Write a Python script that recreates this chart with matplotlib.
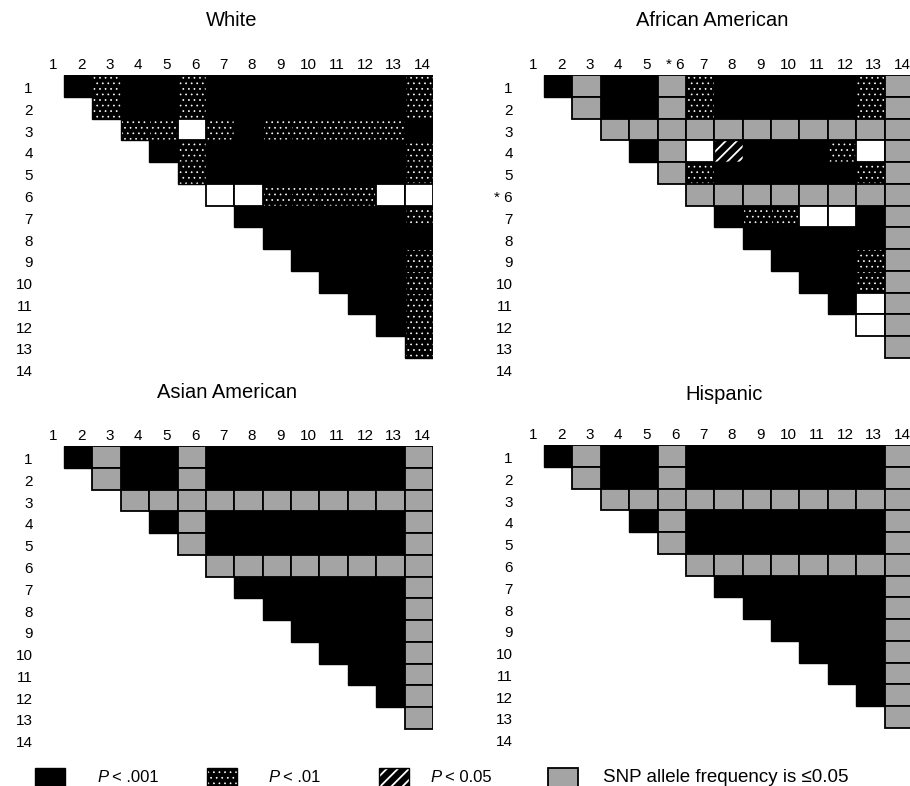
import numpy as np
import matplotlib
matplotlib.use('Agg')
import matplotlib.pyplot as plt
from matplotlib.patches import Rectangle

plt.rcParams['font.family'] = ['Liberation Sans', 'DejaVu Sans']
plt.rcParams['hatch.linewidth'] = 1.3

# SNP pairs: row i holds columns i+1 .. 14
# B: P < .001, D: P < .01, H: P < 0.05, G: SNP allele freq <= 0.05, W: not significant
snp_ids = list(range(1, 15))

white_rows = [
    "BDBBDBBBBBBBD",
    "DBBDBBBBBBBD",
    "DDWDBDDDDDB",
    "BDBBBBBBBD",
    "DBBBBBBBD",
    "WWDDDDWW",
    "BBBBBBD",
    "BBBBBB",
    "BBBBD",
    "BBBD",
    "BBD",
    "BD",
    "D",
]

african_rows = [
    "BGBBGDBBBBBDG",
    "GBBGDBBBBBDG",
    "GGGGGGGGGGG",
    "BGWHBBBDWG",
    "GDBBBBBDG",
    "GGGGGGGG",
    "BDDWWBG",
    "BBBBBG",
    "BBBDG",
    "BBDG",
    "BWG",
    "WG",
    "G",
]

asian_rows = [
    "BGBBGBBBBBBBG",
    "GBBGBBBBBBBG",
    "GGGGGGGGGGG",
    "BGBBBBBBBG",
    "GBBBBBBBG",
    "GGGGGGGG",
    "BBBBBBG",
    "BBBBBG",
    "BBBBG",
    "BBBG",
    "BBG",
    "BG",
    "G",
]

hispanic_rows = [
    "BGBBGBBBBBBBG",
    "GBBGBBBBBBBG",
    "GGGGGGGGGGG",
    "BGBBBBBBBG",
    "GBBBBBBBG",
    "GGGGGGGG",
    "BBBBBBG",
    "BBBBBG",
    "BBBBG",
    "BBBG",
    "BBG",
    "BG",
    "G",
]

plain_labels = [str(n) for n in snp_ids]
african_labels = [("* 6" if n == 6 else str(n)) for n in snp_ids]

titles = ["White", "African American", "Asian American", "Hispanic"]
legend_labels = [".001", ".01", "0.05"]
legend_snp = "SNP allele frequency is \u22640.05"

GRAY = '#a4a4a4'

W, H = 910, 786
fig = plt.figure(figsize=(W / 100, H / 100), dpi=100)


def px_axes(left, top, width, height):
    return fig.add_axes([left / W, 1 - (top + height) / H, width / W, height / H])


def pattern_rect(ax, x, y, w, h, code):
    hatch = '...' if code == 'D' else '///'
    p = Rectangle((x, y), w, h, fc='black', ec='white', lw=0, hatch=hatch)
    if code == 'D' and hasattr(p, 'set_hatch_linewidth'):
        p.set_hatch_linewidth(0.5)
    ax.add_patch(p)
    ax.add_patch(Rectangle((x, y), w, h, fill=False, ec='black', lw=1.0))


def cell(ax, x, y, code):
    if code == 'B':
        ax.add_patch(Rectangle((x, y), 1, 1, fc='black', ec='black', lw=1.0))
    elif code in 'DH':
        pattern_rect(ax, x, y, 1, 1, code)
    elif code == 'G':
        ax.add_patch(Rectangle((x, y), 1, 1, fc=GRAY, ec='black', lw=1.3, zorder=2))
    else:
        ax.add_patch(Rectangle((x, y), 1, 1, fc='white', ec='black', lw=1.3, zorder=2))


def draw_panel(ax, rows, labels):
    for i, row in enumerate(rows, start=1):
        for k, code in enumerate(row):
            j = i + 1 + k
            cell(ax, j - 0.5, i - 0.5, code)
    ax.set_xlim(0.5, 14.5)
    ax.set_ylim(14.5, 0.5)
    ax.xaxis.tick_top()
    ax.set_xticks(np.array(snp_ids) + 0.12)
    ax.set_xticklabels(labels, fontsize=11)
    ax.set_yticks(np.array(snp_ids) + 0.08)
    ax.set_yticklabels(labels, fontsize=11)
    ax.tick_params(length=0, pad=2)
    for s in ax.spines.values():
        s.set_visible(False)


cw, rh = 28.38, 21.77
panel_w, panel_h = 14 * cw, 14 * rh

ax1 = px_axes(35.6, 75, panel_w, panel_h)
ax2 = px_axes(515.6, 75, panel_w, panel_h)
ax3 = px_axes(35.6, 446, panel_w, panel_h)
ax4 = px_axes(515.6, 445, panel_w, panel_h)

draw_panel(ax1, white_rows, plain_labels)
draw_panel(ax2, african_rows, african_labels)
draw_panel(ax3, asian_rows, plain_labels)
draw_panel(ax4, hispanic_rows, plain_labels)

# overlay in pixel coordinates for titles and legend
ov = fig.add_axes([0, 0, 1, 1], zorder=-1)
ov.set_xlim(0, W)
ov.set_ylim(H, 0)
ov.axis('off')

title_pos = [(232, 26), (712, 26), (227, 398), (724, 400)]
for t, (x, y) in zip(titles, title_pos):
    ov.text(x, y, t, fontsize=14.5, ha='center', va='baseline')

# legend
codes = ['B', 'D', 'H', 'G']
box_x = [35, 207, 379, 548]
for code, bx in zip(codes, box_x):
    if code == 'B':
        ov.add_patch(Rectangle((bx, 768), 30, 20, fc='black', ec='black', lw=1))
    elif code in 'DH':
        pattern_rect(ov, bx, 768, 30, 20, code)
    else:
        ov.add_patch(Rectangle((bx, 768), 30, 20, fc=GRAY, ec='black', lw=1.3))

p_x = [97, 268, 430]
for lbl, px in zip(legend_labels, p_x):
    ov.text(px, 777, "P", fontsize=12, style='italic', ha='left', va='center')
    ov.text(px + 15, 777, "< " + lbl, fontsize=12, ha='left', va='center')
ov.text(603, 777, legend_snp, fontsize=13.5, ha='left', va='center')

fig.savefig('out.png', dpi=100)
